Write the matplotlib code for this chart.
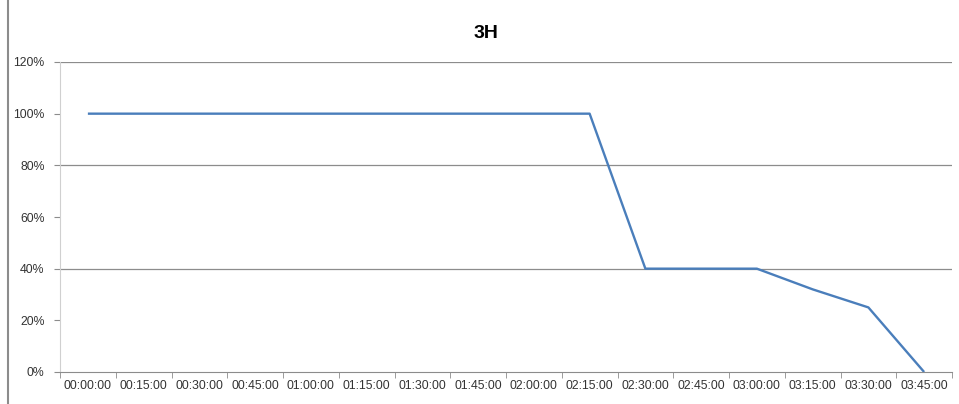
import matplotlib
matplotlib.use("Agg")
import matplotlib.pyplot as plt
from matplotlib.lines import Line2D
import numpy as np

times = ["00:00:00", "00:15:00", "00:30:00", "00:45:00", "01:00:00", "01:15:00",
         "01:30:00", "01:45:00", "02:00:00", "02:15:00", "02:30:00", "02:45:00",
         "03:00:00", "03:15:00", "03:30:00", "03:45:00"]
level = [100, 100, 100, 100, 100, 100, 100, 100, 100, 100, 40, 40, 40, 32, 25, 0]
title = "3H"

plt.rcParams["font.family"] = ["Liberation Sans", "DejaVu Sans"]

fig = plt.figure(figsize=(9.59, 4.04), dpi=100)
ax = fig.add_axes([60 / 959, 32 / 404, 892 / 959, 310 / 404])

x = np.arange(len(times))
ax.plot(x, level, color="#4a7ebb", lw=1.7, solid_capstyle="butt")

ax.set_xlim(-0.5, len(times) - 0.5)
ax.set_ylim(0, 120)
ax.set_yticks(range(0, 121, 20))
ax.set_yticklabels([f"{v}%" for v in range(0, 121, 20)])
ax.set_xticks(x)
ax.set_xticklabels(times)
ax.set_xticks(np.arange(-0.5, len(times), 1), minor=True)

# only every other gridline survives in the original
for v in (40, 80, 120):
    ax.axhline(v, color="#8c8c8c", lw=0.9, zorder=0)

for s in ("top", "right"):
    ax.spines[s].set_visible(False)
ax.spines["left"].set_color("#d0d0d0")
ax.spines["bottom"].set_color("#8c8c8c")
ax.tick_params(axis="x", which="major", length=0, labelsize=8.8, colors="#333333", pad=6)
ax.tick_params(axis="x", which="minor", length=4, color="#8c8c8c")
ax.tick_params(axis="y", length=4, color="#8c8c8c", labelsize=8.8, labelcolor="#333333", pad=7)

fig.text(486 / 959, 1 - 33 / 404, title, ha="center", va="center",
         fontsize=14, fontweight="bold")

fig.add_artist(Line2D([8 / 959, 8 / 959], [0, 1], color="#8c8c8c", lw=1.5,
                      transform=fig.transFigure))

fig.savefig("out.png", dpi=100)
